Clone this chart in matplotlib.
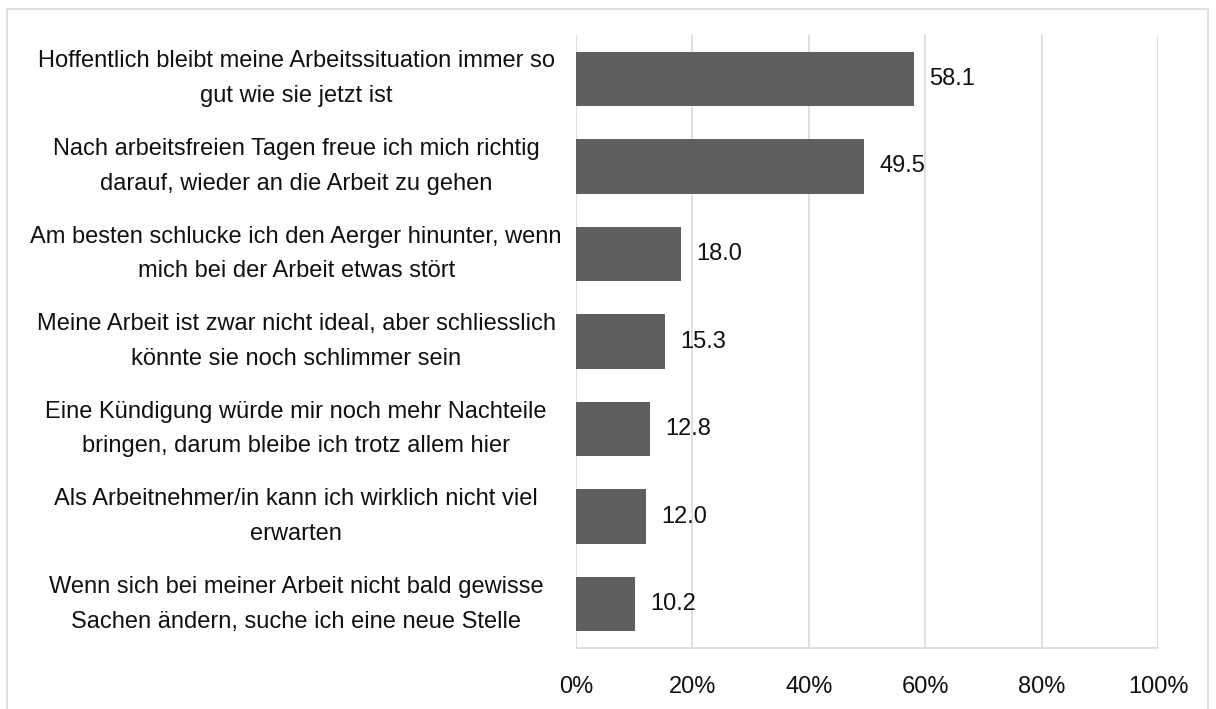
import matplotlib.pyplot as plt
from matplotlib.patches import Rectangle
from matplotlib.ticker import FuncFormatter

# Daten
kategorien = [
    "Hoffentlich bleibt meine Arbeitssituation immer so\ngut wie sie jetzt ist",
    "Nach arbeitsfreien Tagen freue ich mich richtig\ndarauf, wieder an die Arbeit zu gehen",
    "Am besten schlucke ich den Aerger hinunter, wenn\nmich bei der Arbeit etwas stört",
    "Meine Arbeit ist zwar nicht ideal, aber schliesslich\nkönnte sie noch schlimmer sein",
    "Eine Kündigung würde mir noch mehr Nachteile\nbringen, darum bleibe ich trotz allem hier",
    "Als Arbeitnehmer/in kann ich wirklich nicht viel\nerwarten",
    "Wenn sich bei meiner Arbeit nicht bald gewisse\nSachen ändern, suche ich eine neue Stelle",
]
werte = [58.1, 49.5, 18.0, 15.3, 12.8, 12.0, 10.2]
x_ticks = [0, 20, 40, 60, 80, 100]

plt.rcParams["font.family"] = ["Liberation Sans", "DejaVu Sans"]

fig = plt.figure(figsize=(12.16, 7.09), dpi=100)
ax = fig.add_axes([576 / 1216, 61 / 709, 582 / 1216, 613 / 709])

pos = list(range(len(werte)))
ax.barh(pos, werte, height=0.62, color="#5f5f5f", zorder=3)
for p, w in zip(pos, werte):
    ax.text(w + 2.6, p, f"{w:.1f}", va="center", ha="left", fontsize=17, color="#111111", zorder=4)

ax.set_xlim(0, 100)
ax.set_ylim(len(werte) - 0.5, -0.5)
ax.set_yticks(pos)
ax.set_yticklabels(kategorien, fontsize=17, ha="center", va="center", linespacing=1.75, color="#111111")
ax.tick_params(axis="y", length=0, pad=201.5)
ax.set_xticks(x_ticks)
ax.xaxis.set_major_formatter(FuncFormatter(lambda v, _: f"{v:.0f}%"))
ax.tick_params(axis="x", length=0, labelsize=17, labelcolor="#111111", pad=20)

ax.grid(axis="x", color="#d9d9d9", linewidth=1.2, zorder=0)
for s in ["top", "right", "left"]:
    ax.spines[s].set_visible(False)
ax.spines["bottom"].set_color("#d9d9d9")
ax.spines["bottom"].set_linewidth(1.2)

# Rahmen um das Diagramm
fig.patches.append(Rectangle((7 / 1216, -0.01), 1201 / 1216, 0.997, transform=fig.transFigure,
                             fill=False, edgecolor="#d9d9d9", linewidth=1.2))

fig.savefig("out.png", dpi=100)
